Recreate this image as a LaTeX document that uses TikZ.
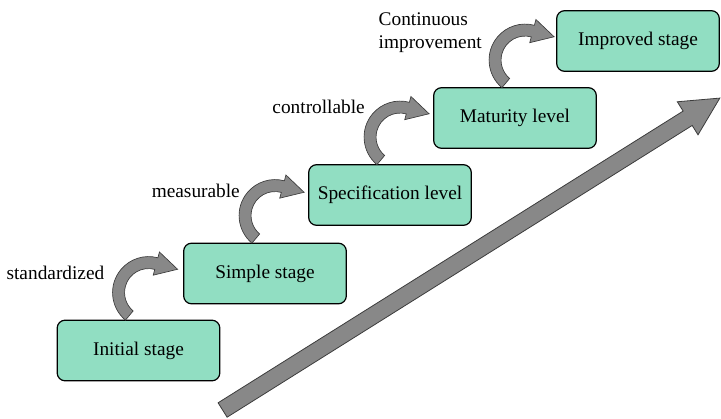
\documentclass[tikz,border=0pt]{standalone}
\usepackage{fontspec}
\setmainfont{Liberation Serif}
\usetikzlibrary{calc}
\definecolor{stagegreen}{RGB}{145,222,194}
\definecolor{arrowgray}{RGB}{136,136,136}
\definecolor{edgegray}{RGB}{60,60,60}
\newcommand{\bendarrow}[1]{%
  \filldraw[fill=arrowgray, draw=edgegray, line width=0.5pt]
    ($(#1)+(230:36)$) arc[start angle=230, end angle=75, radius=36]
    -- ($(#1)+(75:42)$) -- ($(#1)+(75:30)+(-15:22)$) -- ($(#1)+(75:18)$)
    -- ($(#1)+(75:24)$) arc[start angle=75, end angle=230, radius=24] -- cycle;}

\begin{document}
\begin{tikzpicture}[x=0.75pt, y=0.75pt,
    stage/.style={draw=black, line width=0.9pt, fill=stagegreen, rounded corners=6pt,
      minimum width=122pt, minimum height=45.5pt, inner sep=0pt,
      font=\fontsize{14.5}{17.25}\selectfont},
    note/.style={inner sep=0pt, font=\fontsize{14.5}{17.25}\selectfont}]
  \useasboundingbox (0,0) rectangle (721,418);

  % rising arrow
  \coordinate (rise) at (222.6,8);
  \filldraw[fill=arrowgray, draw=edgegray, line width=0.6pt, shift={(rise)}, rotate=32.1]
    (0,-8.5) -- (549,-8.5) -- (549,-19.5) -- (587,0) -- (549,19.5) -- (549,8.5) -- (0,8.5) -- cycle;

  % stages
  \node[stage] (init) at (138.5,67.5) {Initial stage};
  \node[stage] (simple) at (265,144.5) {Simple stage};
  \node[stage] (spec) at (390,223) {Specification level};
  \node[stage] (mature) at (515,300) {Maturity level};
  \node[stage] (improved) at (638,377) {Improved stage};

  \coordinate (c1) at ($(init.north west)+(92,27)$);
  \coordinate (c2) at ($(simple.north west)+(92,27)$);
  \coordinate (c3) at ($(spec.north west)+(92,27)$);
  \coordinate (c4) at ($(mature.north west)+(92,27)$);

  \bendarrow{c1}
  \bendarrow{c2}
  \bendarrow{c3}
  \bendarrow{c4}

  \node[note, anchor=east] (std) at ($(c1)+(-44,20)$) {standardized};
  \node[note, anchor=east] (meas) at ($(c2)+(-35,25)$) {measurable};
  \node[note, anchor=east] (ctrl) at ($(c3)+(-35,30)$) {controllable};
  \node[note, anchor=east, align=left] (cont) at ($(c4)+(-43,27)$) {Continuous\\improvement};
\end{tikzpicture}
\end{document}
